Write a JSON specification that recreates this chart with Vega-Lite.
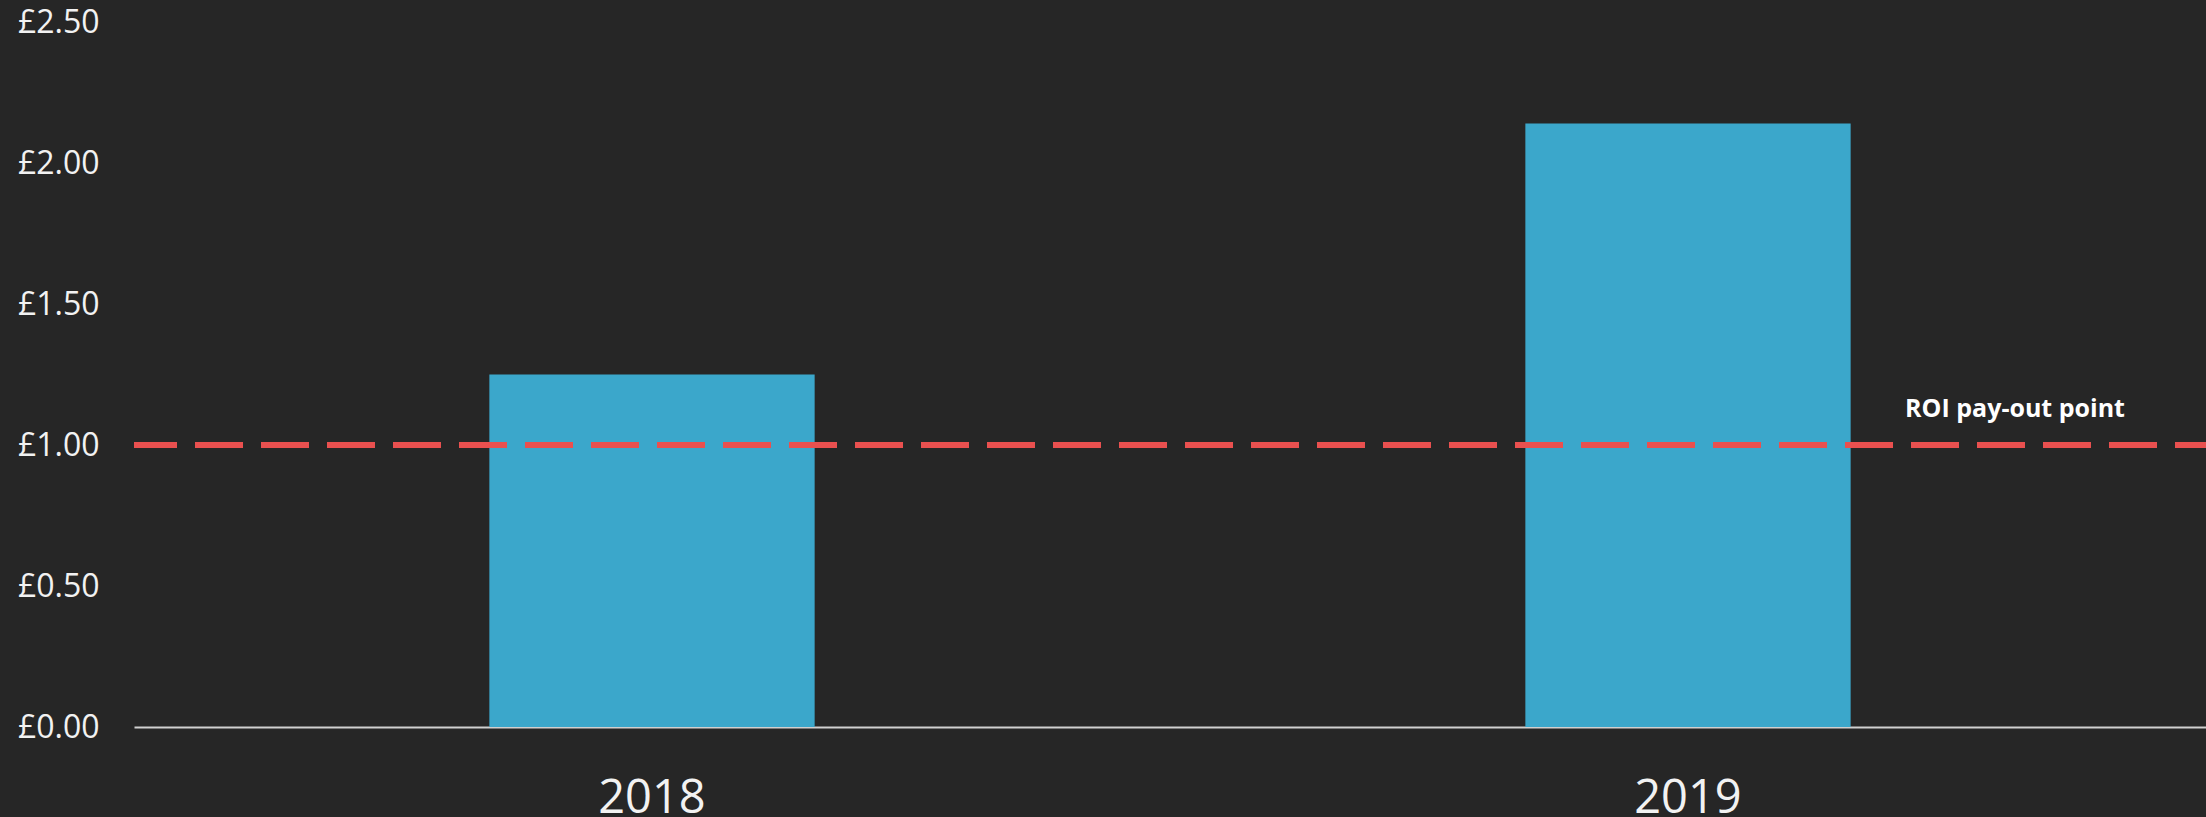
{
  "$schema": "https://vega.github.io/schema/vega-lite/v6.json",
  "autosize": "none",
  "width": 2072,
  "height": 705,
  "padding": {"left": 134, "top": 22, "right": 0, "bottom": 90},
  "background": "#262626",
  "config": {
    "view": {"stroke": null},
    "font": "Open Sans"
  },
  "layer": [
    {
      "data": {
        "values": [
          {"year": "2018", "roi": 1.25},
          {"year": "2019", "roi": 2.14}
        ]
      },
      "mark": {"type": "bar", "color": "#3ba7cb"},
      "encoding": {
        "x": {
          "field": "year",
          "type": "nominal",
          "scale": {"paddingInner": 0.686, "paddingOuter": 0.343},
          "axis": {
            "title": null,
            "labelAngle": 0,
            "labelFont": "Open Sans",
            "labelFontSize": 47,
            "labelColor": "#f2f2f2",
            "labelBaseline": "alphabetic",
            "labelPadding": 85,
            "ticks": false,
            "domainColor": "#d0d0d0",
            "domainWidth": 2
          }
        },
        "y": {
          "field": "roi",
          "type": "quantitative",
          "scale": {"domain": [0, 2.5], "nice": false},
          "axis": {
            "title": null,
            "values": [0, 0.5, 1, 1.5, 2, 2.5],
            "labelExpr": "'£' + format(datum.value, '.2f')",
            "labelFont": "Open Sans",
            "labelFontSize": 32,
            "labelColor": "#f2f2f2",
            "labelAlign": "right",
            "labelPadding": 35,
            "ticks": false,
            "domain": false,
            "grid": false
          }
        }
      }
    },
    {
      "data": {"values": [{"threshold": 1, "label": "ROI pay-out point", "year": "2019"}]},
      "layer": [
        {
          "mark": {
            "type": "rule",
            "color": "#e9504f",
            "strokeWidth": 6,
            "strokeDash": [48, 18],
            "strokeDashOffset": 17
          },
          "encoding": {
            "y": {"field": "threshold", "type": "quantitative"}
          }
        },
        {
          "mark": {
            "type": "text",
            "color": "#ffffff",
            "font": "Open Sans",
            "fontWeight": "bold",
            "fontSize": 25,
            "align": "center",
            "baseline": "alphabetic",
            "dx": 327,
            "dy": -28
          },
          "encoding": {
            "x": {"field": "year", "type": "nominal"},
            "y": {"field": "threshold", "type": "quantitative"},
            "text": {"field": "label"}
          }
        }
      ]
    }
  ]
}
